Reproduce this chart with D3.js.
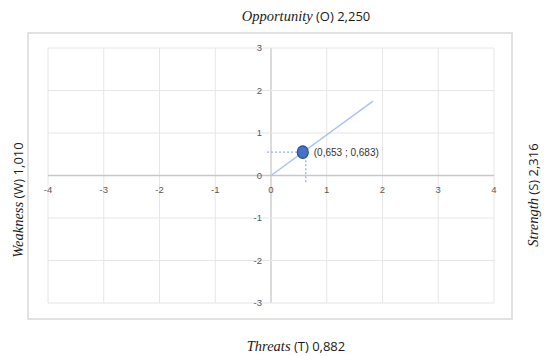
<!DOCTYPE html>
<html><head><meta charset="utf-8">
<script src="https://cdn.jsdelivr.net/npm/d3@7"></script>
<style>
html,body{margin:0;padding:0;background:#fff;}
svg{display:block;}
</style></head>
<body>
<svg id="chart" width="544" height="356"></svg>
<script>
// ---- data ----
const xTicks = [-4, -3, -2, -1, 0, 1, 2, 3, 4];
const yTicks = [-3, -2, -1, 0, 1, 2, 3];
const lineX = [0, 1.83];
const lineY = [0, 1.75];
const pointX = [0.57];
const pointY = [0.55];
const pointLabels = ["(0,653 ; 0,683)"];
const guideXStart = [-0.07];
const guideYEnd = [-0.18];
const titles = {
  top: ["Opportunity", " (O) 2,250"],
  bottom: ["Threats", " (T) 0,882"],
  left: ["Weakness", " (W) 1,010"],
  right: ["Strength", " (S) 2,316"]
};

const svg = d3.select("#chart");
const x = d3.scaleLinear().domain([-4, 4]).range([48, 494]);
const y = d3.scaleLinear().domain([-3, 3]).range([303, 48]);

// outer frame
svg.append("rect").attr("x", 28).attr("y", 33).attr("width", 484).attr("height", 286)
  .attr("fill", "none").attr("stroke", "#d9d9d9").attr("stroke-width", 1.5);

// grid
const g = svg.append("g");
g.selectAll("line.vx").data(xTicks).join("line")
  .attr("x1", d => x(d)).attr("x2", d => x(d))
  .attr("y1", y(3)).attr("y2", y(-3))
  .attr("stroke", d => d === 0 ? "#c8c8c8" : "#e6e6e6").attr("stroke-width", d => d === 0 ? 1.3 : 1);
g.selectAll("line.hy").data(yTicks).join("line")
  .attr("y1", d => y(d)).attr("y2", d => y(d))
  .attr("x1", x(-4)).attr("x2", x(4))
  .attr("stroke", d => d === 0 ? "#c8c8c8" : "#e6e6e6").attr("stroke-width", d => d === 0 ? 1.3 : 1);

// tick labels
g.selectAll("text.xt").data(xTicks).join("text")
  .attr("x", d => x(d)).attr("y", y(0) + 17)
  .attr("text-anchor", "middle")
  .attr("font-family", "Liberation Sans, Arial, sans-serif").attr("font-size", 9.5)
  .attr("fill", "#595959").text(d => d);
g.selectAll("text.yt").data(yTicks).join("text")
  .attr("x", x(0) - 9).attr("y", d => y(d) + 3)
  .attr("text-anchor", "end")
  .attr("font-family", "Liberation Sans, Arial, sans-serif").attr("font-size", 9.5)
  .attr("fill", "#595959").text(d => d);

// trend line
const lineData = lineX.map((v, i) => [v, lineY[i]]);
svg.append("path").datum(lineData)
  .attr("d", d3.line().x(d => x(d[0])).y(d => y(d[1])))
  .attr("fill", "none").attr("stroke", "#a9c4ec").attr("stroke-width", 1.5);

// guide dashes
pointX.forEach((px, i) => {
  svg.append("line").attr("x1", x(guideXStart[i])).attr("x2", x(px))
    .attr("y1", y(pointY[i])).attr("y2", y(pointY[i]))
    .attr("stroke", "#8fb0e6").attr("stroke-width", 1.2).attr("stroke-dasharray", "2,2");
  svg.append("line").attr("x1", x(px) + 3).attr("x2", x(px) + 3)
    .attr("y1", y(pointY[i])).attr("y2", y(guideYEnd[i]))
    .attr("stroke", "#8fb0e6").attr("stroke-width", 1.2).attr("stroke-dasharray", "2,2");
});

// point
svg.selectAll("ellipse.pt").data(pointX).join("ellipse")
  .attr("cx", (d) => x(d)).attr("cy", (d, i) => y(pointY[i]))
  .attr("rx", 5.5).attr("ry", 6.3)
  .attr("fill", "#4472c4").attr("stroke", "#2f4f8f").attr("stroke-width", 1.2);
svg.selectAll("text.pl").data(pointX).join("text")
  .attr("x", d => x(d) + 11).attr("y", (d, i) => y(pointY[i]) + 4)
  .attr("font-family", "Liberation Sans, Arial, sans-serif").attr("font-size", 10)
  .attr("fill", "#333").text((d, i) => pointLabels[i]);

// titles
function title(parts, tx, ty, rot) {
  const t = svg.append("text").attr("text-anchor", "middle")
    .attr("transform", `translate(${tx},${ty}) rotate(${rot})`)
    .attr("fill", "#1a1a1a").attr("font-size", 14.5);
  t.append("tspan").attr("font-family", "Liberation Serif, serif").attr("font-style", "italic")
    .text(parts[0]);
  t.append("tspan").attr("font-family", "Open Sans, Liberation Sans, sans-serif").attr("font-size", 13)
    .attr("font-weight", 500).text(parts[1]);
}
title(titles.top, 306, 21, 0);
title(titles.bottom, 296, 351, 0);
title(titles.left, 23, 200, -90);
title(titles.right, 538, 195, -90);
</script>
</body></html>
